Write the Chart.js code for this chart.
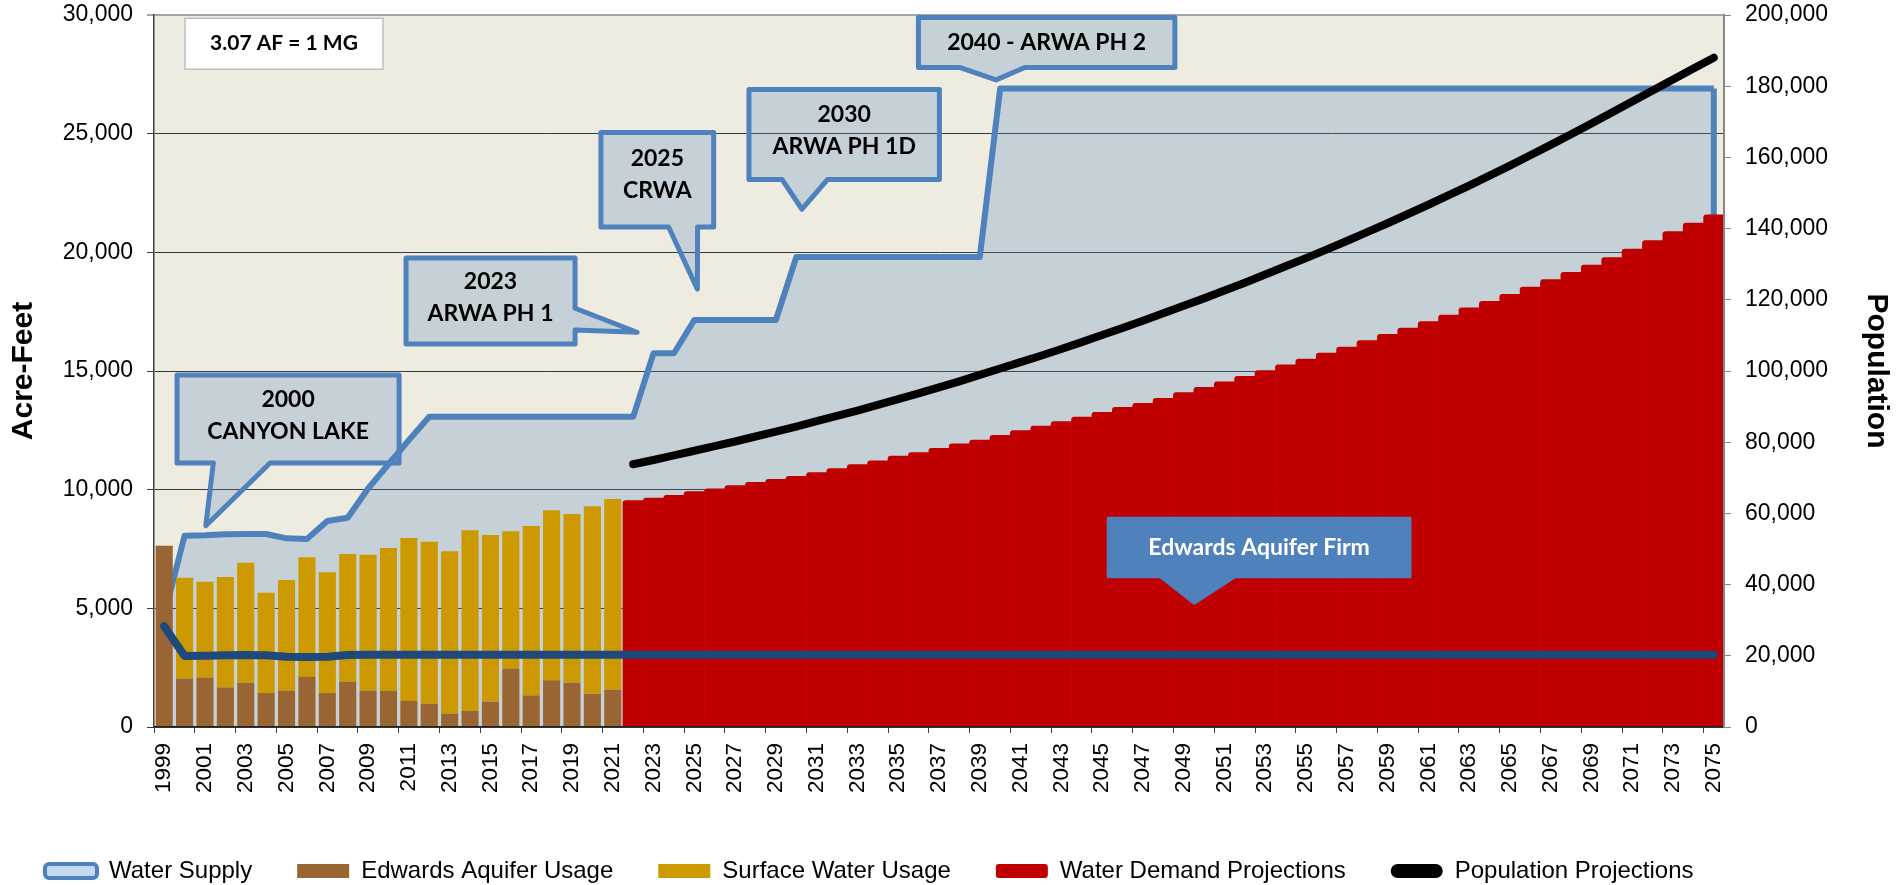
<!DOCTYPE html>
<html>
<head>
<meta charset="utf-8">
<script src="https://cdn.jsdelivr.net/npm/chart.js@4.4.1/dist/chart.umd.min.js"></script>
<style>
html,body{margin:0;padding:0;background:#fff;}
#wrap{width:1901px;height:885px;position:relative;}
canvas{display:block;}
</style>
</head>
<body>
<div id="wrap"><canvas id="c" width="1901" height="885"></canvas></div>
<script>
// ---------- categories ----------
const years = ['1999','2000','2001','2002','2003','2004','2005','2006','2007','2008','2009','2010','2011','2012','2013','2014','2015','2016','2017','2018','2019','2020','2021','2022','2023','2024','2025','2026','2027','2028','2029','2030','2031','2032','2033','2034','2035','2036','2037','2038','2039','2040','2041','2042','2043','2044','2045','2046','2047','2048','2049','2050','2051','2052','2053','2054','2055','2056','2057','2058','2059','2060','2061','2062','2063','2064','2065','2066','2067','2068','2069','2070','2071','2072','2073','2074','2075'];

// ---------- series (acre-feet unless noted) ----------
// Water Supply, 1999-2075
const waterSupply = [4700,8060,8080,8120,8130,8130,7950,7920,8680,8820,10050,11070,12090,13070,
  13070,13070,13070,13070,13070,13070,13070,13070,13070,13070,
  15750,15750,
  17150,17150,17150,17150,17150,
  19800,19800,19800,19800,19800,19800,19800,19800,19800,19800,
  26900,26900,26900,26900,26900,26900,26900,26900,26900,26900,26900,26900,
  26900,26900,26900,26900,26900,26900,26900,26900,26900,26900,26900,26900,
  26900,26900,26900,26900,26900,26900,26900,26900,26900,26900,26900,26900];

// Edwards Aquifer Usage, 1999-2021
const edwardsUsage = [7640,2040,2080,1670,1870,1430,1530,2110,1430,1910,1530,1530,1100,980,560,690,1070,2460,1330,1970,1870,1400,1570];

// Surface Water Usage, 1999-2021
const surfaceUsage = [null,4250,4040,4650,5050,4230,4660,5045,5090,5380,5725,6010,6865,6830,6840,7605,7020,5785,7140,7165,7105,7905,8035];

// Water Demand Projections, 2022-2075
const demandProjections = [9540,9650,9760,9920,10040,10170,10310,10440,10560,10720,10890,11060,11220,11410,11560,11740,11930,12090,
  12290,12490,12680,12870,13060,13260,13470,13640,13850,14090,14310,14540,14780,15020,15260,15500,15750,16010,16280,16550,16810,
  17080,17360,17660,17940,18230,18540,18850,19160,19460,19780,20140,20490,20870,21230,21580];

// Population Projections (persons), 2022-2075
const populationProjections = [73800,75000,76300,77600,78900,80200,81600,83000,84400,85900,87400,88900,90500,92100,93700,95400,97100,98900,
  100700,102500,104300,106200,108100,110100,112100,114100,116200,118300,120400,122600,124800,127100,129400,131700,134100,136500,139000,141500,
  144100,146700,149400,152100,154900,157700,160600,163500,166500,169500,172600,175700,178800,181900,185000,188000];

// Edwards Aquifer Firm, 1999-2075
const edwardsFirm = [4250,2990,3000,3020,3030,3020,2960,2950,2960,3030,
  3040,3040,3040,3040,3040,3040,3040,3040,3040,3040,3040,3040,3040,3040,3040,3040,3040,3040,3040,3040,
  3040,3040,3040,3040,3040,3040,3040,3040,3040,3040,3040,3040,3040,3040,3040,3040,3040,3040,3040,3040,
  3040,3040,3040,3040,3040,3040,3040,3040,3040,3040,3040,3040,3040,3040,3040,3040,3040,3040,3040,3040,
  3040,3040,3040,3040,3040,3040,3040];

// ---------- tick values ----------
const leftTicks = {min:0, max:30000, step:5000};
const rightTicks = {min:0, max:200000, step:20000};

// ---------- full-length arrays (years without data padded with null) ----------
const nHist = edwardsUsage.length;                    // 1999-2021
const pad = n => new Array(n).fill(null);
const edwardsFull = edwardsUsage.concat(pad(years.length - nHist));
const surfaceFull = surfaceUsage.concat(pad(years.length - nHist));
const demandFull = pad(years.length - demandProjections.length).concat(demandProjections);
const popFull = pad(years.length - populationProjections.length).concat(populationProjections);

// ---------- annotations (year / acre-feet coordinates) ----------
const callouts = [
  {lines:['2000','CANYON LAKE'], x0:1999.63, x1:2010.52, yTop:14833, yBot:11125, side:'bottom', b1:2001.41, b2:2004.19, tip:[2001.04,8483], ty:[13780,12444]},
  {lines:['2023','ARWA PH 1'], x0:2010.86, x1:2019.15, yTop:19764, yBot:16140, side:'right', b1:17644, b2:16730, tip:[2022.19,16633], ty:[18752,17404]},
  {lines:['2025','CRWA'], x0:2020.42, x1:2025.95, yTop:25052, yBot:21070, side:'bottom', b1:2023.74, b2:2025.16, tip:[2025.15,18445], ty:[23965,22600]},
  {lines:['2030','ARWA PH 1D'], x0:2027.68, x1:2037.02, yTop:26864, yBot:23071, side:'bottom', b1:2029.3, b2:2031.54, tip:[2030.28,21816], ty:[25790,24454]},
  {lines:['2040 - ARWA PH 2'], x0:2035.99, x1:2048.57, yTop:29898, yBot:27791, side:'bottom', b1:2038.01, b2:2041.21, tip:[2039.8,27265], ty:[28836]}
];
const firmCallout = {lines:['Edwards Aquifer Firm'], x0:2045.3, x1:2060.1, yTop:8795, yBot:6334, side:'bottom', b1:2047.84, b2:2051.52, tip:[2049.52,5213], ty:[7564]};
const noteBox = {text:'3.07 AF = 1 MG', x0:2000.02, x1:2009.73, yTop:29865, yBot:27716};

const FONT = "'Liberation Sans', Arial, sans-serif";
const CALLOUT_FONT = "Lato, 'Open Sans', sans-serif";

const bgPlugin = {
  id:'plotBg',
  beforeDraw(chart){
    const {ctx, chartArea:a} = chart;
    ctx.save();
    ctx.fillStyle = '#EEECE1';
    ctx.fillRect(a.left, a.top, a.right - a.left, a.bottom - a.top);
    ctx.restore();
  }
};

const edgePlugin = {
  id:'supplyEdges',
  afterDatasetDraw(chart, args){
    if (args.index !== 0) return;
    const pts = args.meta.data;
    const y0 = chart.scales.y.getPixelForValue(0);
    const a = chart.chartArea;
    const ctx = chart.ctx;
    ctx.save();
    ctx.beginPath(); ctx.rect(a.left, a.top, a.right - a.left, a.bottom - a.top); ctx.clip();
    ctx.strokeStyle = '#4F81BD'; ctx.lineWidth = 6; ctx.lineJoin = 'round';
    const f = pts[0], l = pts[pts.length - 1];
    ctx.beginPath();
    ctx.moveTo(f.x, y0); ctx.lineTo(f.x, f.y);
    ctx.moveTo(l.x, l.y); ctx.lineTo(l.x, y0);
    ctx.stroke();
    ctx.restore();
  }
};

function shapePoints(c, X, Y){
  const L = X(c.x0), R = X(c.x1), T = Y(c.yTop), B = Y(c.yBot);
  const tip = [X(c.tip[0]), Y(c.tip[1])];
  if (c.side === 'right') {
    return [[L,T],[R,T],[R,Y(c.b1)],tip,[R,Y(c.b2)],[R,B],[L,B]];
  }
  return [[L,T],[R,T],[R,B],[X(c.b2),B],tip,[X(c.b1),B],[L,B]];
}
function tracePath(ctx, pts){
  ctx.beginPath();
  pts.forEach((p,i) => i ? ctx.lineTo(p[0],p[1]) : ctx.moveTo(p[0],p[1]));
  ctx.closePath();
}

const calloutPlugin = {
  id:'callouts',
  afterDatasetsDraw(chart){
    const ctx = chart.ctx;
    const xs = chart.scales.x, ys = chart.scales.y;
    const X = yr => xs.getPixelForValue(yr - 1999);
    const Y = v => ys.getPixelForValue(v);
    ctx.save();
    ctx.textAlign = 'center';
    ctx.textBaseline = 'middle';
    callouts.forEach(c => {
      const pts = shapePoints(c, X, Y);
      tracePath(ctx, pts);
      ctx.fillStyle = 'rgba(79,129,189,0.25)';
      ctx.fill();
      ctx.lineWidth = 5; ctx.strokeStyle = '#4F81BD'; ctx.lineJoin = 'round';
      ctx.stroke();
      ctx.fillStyle = '#000';
      ctx.font = "bold 23px " + CALLOUT_FONT;
      const cx = (X(c.x0) + X(c.x1)) / 2;
      c.lines.forEach((t,i) => ctx.fillText(t, cx, Y(c.ty[i])));
    });
    {
      const c = firmCallout;
      const pts = shapePoints(c, X, Y);
      tracePath(ctx, pts);
      ctx.fillStyle = '#4F81BD';
      ctx.fill();
      ctx.lineWidth = 3; ctx.strokeStyle = '#4F81BD'; ctx.lineJoin = 'round';
      ctx.stroke();
      ctx.fillStyle = '#FFFFFF';
      ctx.font = "bold 23px " + CALLOUT_FONT;
      ctx.fillText(c.lines[0], (X(c.x0) + X(c.x1)) / 2, Y(c.ty[0]));
    }
    {
      const n = noteBox;
      const L = X(n.x0), R = X(n.x1), T = Y(n.yTop), B = Y(n.yBot);
      ctx.fillStyle = '#FFFFFF';
      ctx.fillRect(L, T, R - L, B - T);
      ctx.lineWidth = 1.5; ctx.strokeStyle = '#BFBFBF';
      ctx.strokeRect(L, T, R - L, B - T);
      ctx.fillStyle = '#000';
      ctx.font = "bold 21px " + CALLOUT_FONT;
      ctx.fillText(n.text, (L + R) / 2, (T + B) / 2);
    }
    ctx.restore();
  }
};

function build(){
  Chart.defaults.font.family = FONT;
  Chart.defaults.color = '#000';
  new Chart(document.getElementById('c'), {
    type:'bar',
    data:{
      labels: years,
      datasets:[
        {type:'line', label:'Water Supply', data:waterSupply, yAxisID:'y', stack:'supply', order:5,
          borderColor:'#4F81BD', backgroundColor:'rgba(79,129,189,0.25)', borderWidth:6, fill:'origin',
          pointRadius:0, tension:0, borderJoinStyle:'round'},
        {type:'bar', label:'Edwards Aquifer Usage', data:edwardsFull, yAxisID:'y', stack:'use', order:3,
          backgroundColor:'#996633', barPercentage:0.84, categoryPercentage:1},
        {type:'bar', label:'Surface Water Usage', data:surfaceFull, yAxisID:'y', stack:'use', order:3,
          backgroundColor:'#CC9900', barPercentage:0.84, categoryPercentage:1},
        {type:'bar', label:'Water Demand Projections', data:demandFull, yAxisID:'y', stack:'use', order:2,
          backgroundColor:'#C00000', barPercentage:1, categoryPercentage:1, borderRadius:{topLeft:3, topRight:0, bottomLeft:0, bottomRight:0}},
        {type:'line', label:'Population Projections', data:popFull, yAxisID:'y2', stack:'pop', order:0,
          borderColor:'#000000', backgroundColor:'#000000', borderWidth:8, pointRadius:0, fill:false,
          borderCapStyle:'round', borderJoinStyle:'round', tension:0},
        {type:'line', label:'Edwards Aquifer Firm', data:edwardsFirm, yAxisID:'y', stack:'firm', order:1,
          borderColor:'#1F497D', backgroundColor:'#1F497D', borderWidth:8, pointRadius:0, fill:false,
          borderCapStyle:'round', borderJoinStyle:'round', tension:0}
      ]
    },
    options:{
      responsive:false,
      animation:false,
      devicePixelRatio:1,
      events:[],
      layout:{padding:{top:15, bottom:-8, left:0, right:0}},
      plugins:{
        tooltip:{enabled:false},
        legend:{
          position:'bottom',
          align:'start',
          labels:{
            boxWidth:52, boxHeight:14, padding:45, color:'#000',
            font:{family:FONT, size:24},
            filter: item => item.text !== 'Edwards Aquifer Firm',
            sort: (a,b) => a.datasetIndex - b.datasetIndex,
            generateLabels: chart => {
              const items = Chart.defaults.plugins.legend.labels.generateLabels(chart);
              items.forEach(it => {
                if (it.datasetIndex === 0) { it.fillStyle = '#C6D9F1'; it.strokeStyle = '#4F81BD'; it.lineWidth = 4; it.borderRadius = 4; }
                else if (it.datasetIndex === 4) { it.fillStyle = '#000'; it.strokeStyle = '#000'; it.lineWidth = 0; it.borderRadius = 7; }
                else { it.lineWidth = 0; it.borderRadius = it.datasetIndex === 3 ? 3 : 0; }
              });
              return items;
            }
          }
        }
      },
      scales:{
        x:{
          offset:true,
          grid:{display:true, offset:true, drawOnChartArea:false, drawTicks:true, tickLength:6,
            color: c => (c.index % 2 === 0) ? '#404040' : 'rgba(0,0,0,0)', lineWidth:1},
          border:{display:true, color:'#262626', width:1.5, z:1},
          ticks:{autoSkip:false, maxRotation:90, minRotation:90, padding:10, color:'#000',
            font:{family:FONT, size:22.5},
            callback:(v,i) => (i % 2 === 0) ? years[i] : ''},
          afterFit: s => { s.height = 87; }
        },
        y:{
          position:'left', stacked:true, min:leftTicks.min, max:leftTicks.max,
          ticks:{stepSize:leftTicks.step, padding:14, color:'#000', font:{family:FONT, size:23}},
          grid:{drawTicks:true, tickLength:7,
            color: c => (c.tick && c.tick.value === leftTicks.max) ? '#A6A6A6' : '#3A3A3A',
            lineWidth: c => (c.tick && c.tick.value === leftTicks.max) ? 2 : 1},
          border:{color:'#404040', width:1.5},
          title:{display:true, text:'Acre-Feet', color:'#000', font:{family:FONT, size:30, weight:'bold'}, padding:{top:6, bottom:0}},
          afterFit: s => { s.width = 154; s.paddingTop = 0; s.paddingBottom = 0; }
        },
        y2:{
          position:'right', min:rightTicks.min, max:rightTicks.max,
          ticks:{stepSize:rightTicks.step, padding:14, color:'#000', font:{family:FONT, size:23}},
          grid:{drawOnChartArea:false, drawTicks:true, tickLength:7, color:'#868686'},
          border:{color:'#868686', width:2, z:1},
          title:{display:true, text:'Population', color:'#000', font:{family:FONT, size:30, weight:'bold'}, padding:{top:7, bottom:7}},
          afterFit: s => { s.width = 177; s.paddingTop = 0; s.paddingBottom = 0; }
        }
      }
    },
    plugins:[bgPlugin, edgePlugin, calloutPlugin]
  });
}

const fontLoads = ["bold 23px Lato", "bold 21px Lato", "23px 'Liberation Sans'", "bold 30px 'Liberation Sans'"].map(f => document.fonts.load(f).catch(() => null));
Promise.all(fontLoads).then(build, build);
</script>
</body>
</html>
